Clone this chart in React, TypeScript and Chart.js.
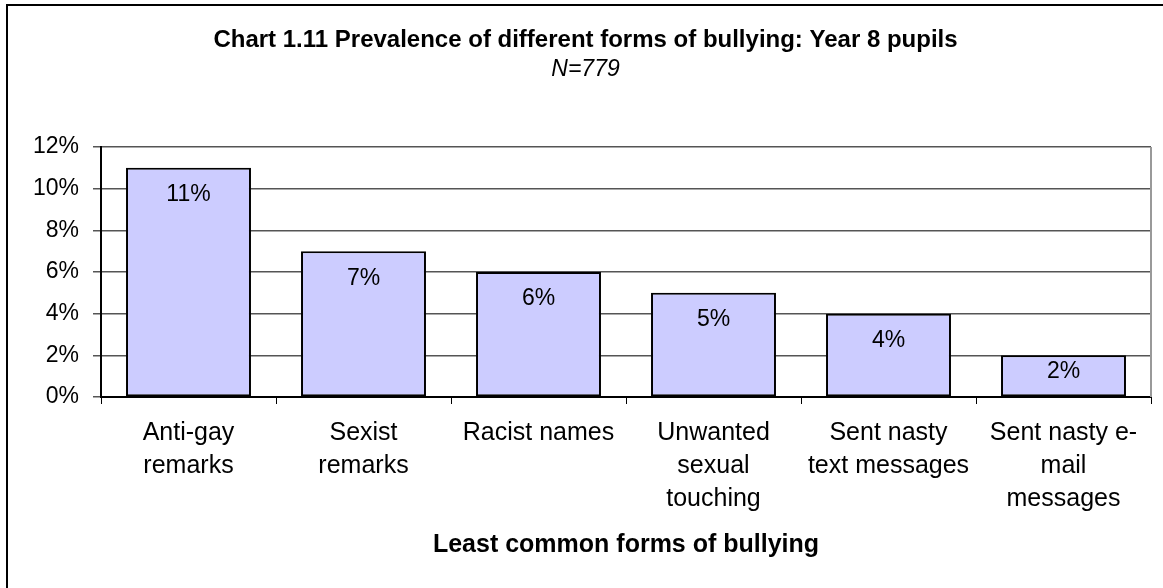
import React, { useEffect, useRef } from "react";
import { Chart, registerables } from "chart.js";

Chart.register(...registerables);

const categories: string[][] = [
  ["Anti-gay", "remarks"],
  ["Sexist", "remarks"],
  ["Racist names"],
  ["Unwanted", "sexual", "touching"],
  ["Sent nasty", "text messages"],
  ["Sent nasty e-", "mail", "messages"],
];
const values: number[] = [11, 7, 6, 5, 4, 2];
const yMax = 12;
const yStep = 2;
const titleText = "Chart 1.11 Prevalence of different forms of bullying: Year 8 pupils";
const subtitleText = "N=779";
const xTitle = "Least common forms of bullying";

const FONT = "'Liberation Sans', Arial, sans-serif";

const framePlugin = {
  id: "frame",
  beforeDraw(chart: any) {
    const { ctx, width, height } = chart;
    ctx.save();
    ctx.fillStyle = "#ffffff";
    ctx.fillRect(0, 0, width, height);
    ctx.strokeStyle = "#000000";
    ctx.lineWidth = 2;
    ctx.strokeRect(7, 5, width + 20, height + 20);
    ctx.restore();
  },
  beforeDatasetsDraw(chart: any) {
    const { ctx, chartArea } = chart;
    ctx.save();
    ctx.strokeStyle = "#999999";
    ctx.lineWidth = 2;
    ctx.beginPath();
    ctx.moveTo(chartArea.right, chartArea.top);
    ctx.lineTo(chartArea.right, chartArea.bottom);
    ctx.stroke();
    ctx.restore();
  },
};

const labelPlugin = {
  id: "barLabels",
  afterDatasetsDraw(chart: any) {
    const { ctx } = chart;
    const meta = chart.getDatasetMeta(0);
    ctx.save();
    ctx.fillStyle = "#000000";
    ctx.font = `23px ${FONT}`;
    ctx.textAlign = "center";
    ctx.textBaseline = "middle";
    meta.data.forEach((bar: any, i: number) => {
      const h = bar.base - bar.y;
      const off = Math.min(27, h / 2 - 4);
      ctx.fillText(`${values[i]}%`, bar.x, bar.y + off);
    });
    ctx.restore();
  },
};

export default function App() {
  const ref = useRef<HTMLCanvasElement | null>(null);

  useEffect(() => {
    document.body.style.margin = "0";
    if (!ref.current) return;
    const chart = new Chart(ref.current, {
      type: "bar",
      data: {
        labels: categories,
        datasets: [
          {
            data: values,
            backgroundColor: "#ccccff",
            borderColor: "#000000",
            borderWidth: 2,
            borderSkipped: false,
            barPercentage: 0.714,
            categoryPercentage: 1,
          },
        ],
      },
      options: {
        responsive: false,
        animation: false,
        layout: { padding: { left: 20, right: 12, top: 0, bottom: 0 } },
        plugins: {
          legend: { display: false },
          tooltip: { enabled: false },
          title: {
            display: true,
            text: titleText,
            color: "#000000",
            font: { family: FONT, size: 24, weight: "bold", lineHeight: 1.2 },
            padding: { top: 26, bottom: 0 },
          },
          subtitle: {
            display: true,
            text: subtitleText,
            color: "#000000",
            font: { family: FONT, size: 23, style: "italic", lineHeight: 1.2 },
            padding: { top: 1.4, bottom: 63.2 },
          },
        },
        scales: {
          x: {
            type: "category",
            grid: {
              display: true,
              drawOnChartArea: false,
              drawTicks: true,
              tickLength: 7,
              color: "#000000",
              offset: true,
            },
            border: { display: true, color: "#000000", width: 2 },
            ticks: {
              color: "#000000",
              font: { family: FONT, size: 25, lineHeight: 1.32 },
              padding: 13,
              maxRotation: 0,
              autoSkip: false,
            },
            title: {
              display: true,
              text: xTitle,
              color: "#000000",
              font: { family: FONT, size: 25, weight: "bold", lineHeight: 1.2 },
              padding: { top: 0, bottom: 28 },
            },
            afterFit(scale: any) {
              scale.height = 191;
            },
          },
          y: {
            min: 0,
            max: yMax,
            grid: {
              color: "#555555",
              lineWidth: 1.5,
              drawTicks: true,
              tickLength: 8,
            },
            border: { display: true, color: "#000000", width: 2 },
            ticks: {
              stepSize: yStep,
              color: "#000000",
              font: { family: FONT, size: 23 },
              padding: 14,
              callback: (v: any) => `${v}%`,
            },
            afterFit(scale: any) {
              scale.width = 81;
            },
          },
        },
      },
      plugins: [framePlugin, labelPlugin],
    });
    return () => chart.destroy();
  }, []);

  return (
    <div style={{ width: 1163, height: 588, overflow: "hidden" }}>
      <canvas ref={ref} width={1163} height={588} style={{ display: "block" }} />
    </div>
  );
}
